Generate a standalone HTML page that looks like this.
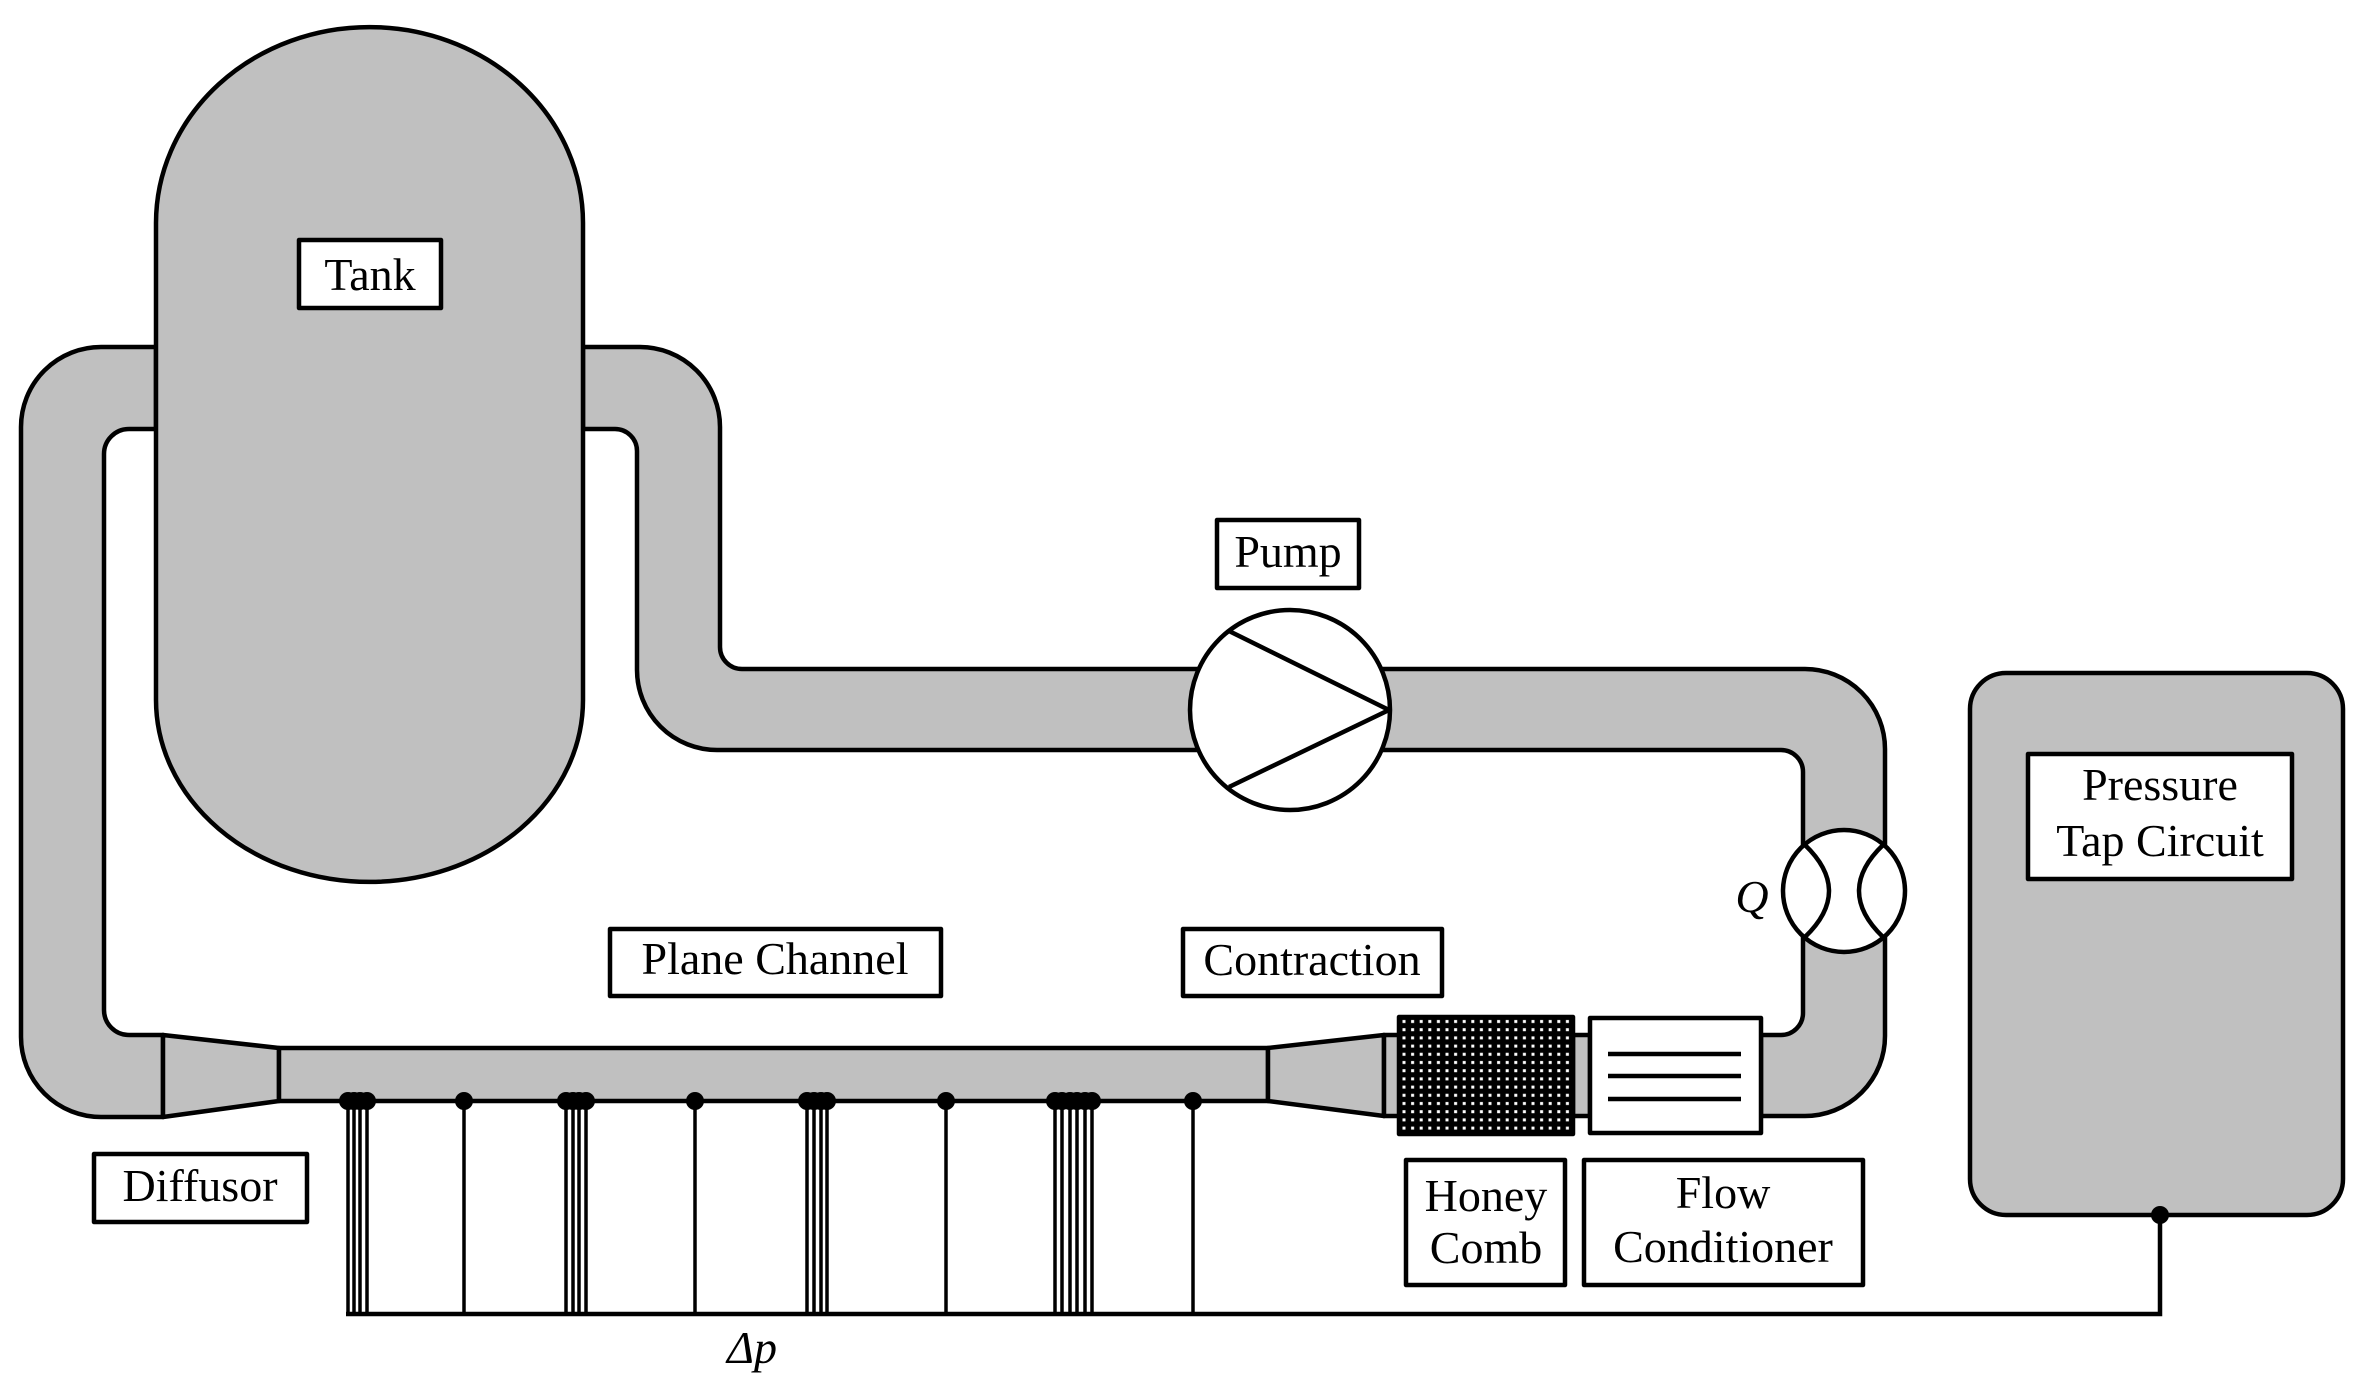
<!DOCTYPE html>
<html><head><meta charset="utf-8"><style>
html,body{margin:0;padding:0;background:#fff;}
svg{display:block;}
text{font-family:"Liberation Serif",serif;font-size:46px;fill:#000;}
</style></head><body>
<svg width="2374" height="1391" viewBox="0 0 2374 1391" xmlns="http://www.w3.org/2000/svg">
<defs>
<pattern id="hc" x="1399" y="1017" width="8.6" height="8.2" patternUnits="userSpaceOnUse">
<rect width="8.6" height="8.2" fill="#000"/>
<rect x="3.5" y="3" width="3" height="3" fill="#fff"/>
</pattern>
</defs>
<g stroke="#000" stroke-width="4.5" stroke-linejoin="round">
<!-- left pipe loop -->
<path fill="#c0c0c0" d="M156,347 H101 A80,80 0 0 0 21,427 V1037 A80,80 0 0 0 101,1117 H163 V1035 H129 A25,25 0 0 1 104,1010 V454 A25,25 0 0 1 129,429 H156 Z"/>
<!-- top right pipe -->
<path fill="#c0c0c0" d="M583,347 H640 A80,80 0 0 1 720,427 V647 A22,22 0 0 0 742,669 H1200 V750 H717 A80,80 0 0 1 637,670 V451 A22,22 0 0 0 615,429 H583 Z"/>
<!-- right pipe -->
<path fill="#c0c0c0" d="M1380,669 H1805 A80,80 0 0 1 1885,749 V1036 A80,80 0 0 1 1805,1116 H1761 V1035 H1781 A22,22 0 0 0 1803,1013 V772 A22,22 0 0 0 1781,750 H1380 Z"/>
<!-- tank -->
<path fill="#c0c0c0" d="M156,700 V223 A213.5,196 0 0 1 583,223 V700 A213.5,182 0 0 1 156,700 Z"/>
<!-- diffusor -->
<path fill="#c0c0c0" d="M163,1035 L279,1048 L279,1101 L163,1117 Z"/>
<!-- channel -->
<rect x="279" y="1048" width="989" height="53" fill="#c0c0c0"/>
<!-- contraction -->
<path fill="#c0c0c0" d="M1268,1048 L1384,1035 L1384,1116 L1268,1101 Z"/>
<!-- small gray joints -->
<rect x="1384" y="1035" width="16" height="81" fill="#c0c0c0"/>
<rect x="1573" y="1035" width="17" height="81" fill="#c0c0c0"/>
<!-- honeycomb -->
<rect x="1399" y="1017" width="174" height="117" fill="url(#hc)" stroke="#000"/>
<!-- flow conditioner -->
<rect x="1590" y="1018" width="171" height="115" fill="#fff"/>
<line x1="1608" y1="1054" x2="1741" y2="1054"/>
<line x1="1608" y1="1076" x2="1741" y2="1076"/>
<line x1="1608" y1="1099" x2="1741" y2="1099"/>
<!-- pump -->
<circle cx="1290" cy="710" r="100" fill="#fff"/>
<path fill="none" d="M1229,631 L1389,710 L1229,787"/>
<!-- flowmeter -->
<circle cx="1844" cy="891" r="61" fill="#fff"/>
<path fill="none" d="M1805,845 Q1853,891 1805,937"/>
<path fill="none" d="M1883,845 Q1835,891 1883,937"/>
<!-- pressure tap circuit -->
<rect x="1970" y="673" width="373" height="542" rx="36" ry="36" fill="#c0c0c0"/>
<rect x="2028" y="754" width="264" height="125" fill="#fff"/>
<!-- label boxes -->
<rect x="299" y="240" width="142" height="68" fill="#fff"/>
<rect x="1217" y="520" width="142" height="68" fill="#fff"/>
<rect x="610" y="929" width="331" height="67" fill="#fff"/>
<rect x="1183" y="929" width="259" height="67" fill="#fff"/>
<rect x="94" y="1154" width="213" height="68" fill="#fff"/>
<rect x="1406" y="1160" width="159" height="125" fill="#fff"/>
<rect x="1584" y="1160" width="279" height="125" fill="#fff"/>
</g>
<!-- taps -->
<g stroke="#000" stroke-width="3.5">
<line x1="348" y1="1101" x2="348" y2="1314"/><line x1="354" y1="1101" x2="354" y2="1314"/><line x1="360" y1="1101" x2="360" y2="1314"/><line x1="367" y1="1101" x2="367" y2="1314"/>
<line x1="464" y1="1101" x2="464" y2="1314"/>
<line x1="566" y1="1101" x2="566" y2="1314"/><line x1="573" y1="1101" x2="573" y2="1314"/><line x1="579" y1="1101" x2="579" y2="1314"/><line x1="586" y1="1101" x2="586" y2="1314"/>
<line x1="695" y1="1101" x2="695" y2="1314"/>
<line x1="807" y1="1101" x2="807" y2="1314"/><line x1="814" y1="1101" x2="814" y2="1314"/><line x1="821" y1="1101" x2="821" y2="1314"/><line x1="827" y1="1101" x2="827" y2="1314"/>
<line x1="946" y1="1101" x2="946" y2="1314"/>
<line x1="1055" y1="1101" x2="1055" y2="1314"/><line x1="1062" y1="1101" x2="1062" y2="1314"/><line x1="1070" y1="1101" x2="1070" y2="1314"/><line x1="1077" y1="1101" x2="1077" y2="1314"/><line x1="1085" y1="1101" x2="1085" y2="1314"/><line x1="1092" y1="1101" x2="1092" y2="1314"/>
<line x1="1193" y1="1101" x2="1193" y2="1314"/>
</g>
<path d="M346,1314 H2160 V1215" fill="none" stroke="#000" stroke-width="4.5"/>
<g fill="#000">
<circle cx="348" cy="1101" r="9"/><circle cx="354" cy="1101" r="9"/><circle cx="360" cy="1101" r="9"/><circle cx="367" cy="1101" r="9"/>
<circle cx="464" cy="1101" r="9"/>
<circle cx="566" cy="1101" r="9"/><circle cx="573" cy="1101" r="9"/><circle cx="579" cy="1101" r="9"/><circle cx="586" cy="1101" r="9"/>
<circle cx="695" cy="1101" r="9"/>
<circle cx="807" cy="1101" r="9"/><circle cx="814" cy="1101" r="9"/><circle cx="821" cy="1101" r="9"/><circle cx="827" cy="1101" r="9"/>
<circle cx="946" cy="1101" r="9"/>
<circle cx="1055" cy="1101" r="9"/><circle cx="1062" cy="1101" r="9"/><circle cx="1070" cy="1101" r="9"/><circle cx="1077" cy="1101" r="9"/><circle cx="1085" cy="1101" r="9"/><circle cx="1092" cy="1101" r="9"/>
<circle cx="1193" cy="1101" r="9"/>
<circle cx="2160" cy="1215" r="9"/>
</g>
<!-- text -->
<g text-anchor="middle">
<text x="370" y="290">Tank</text>
<text x="1288" y="567">Pump</text>
<text x="775" y="974">Plane Channel</text>
<text x="1312" y="975">Contraction</text>
<text x="200" y="1201">Diffusor</text>
<text x="1486" y="1211">Honey</text>
<text x="1486" y="1263">Comb</text>
<text x="1723" y="1208">Flow</text>
<text x="1723" y="1262">Conditioner</text>
<text x="2160" y="800">Pressure</text>
<text x="2160" y="856">Tap Circuit</text>
<text x="1752" y="912" font-style="italic">Q</text>
<text x="752" y="1363" font-style="italic">Δp</text>
</g>
</svg>
</body></html>
